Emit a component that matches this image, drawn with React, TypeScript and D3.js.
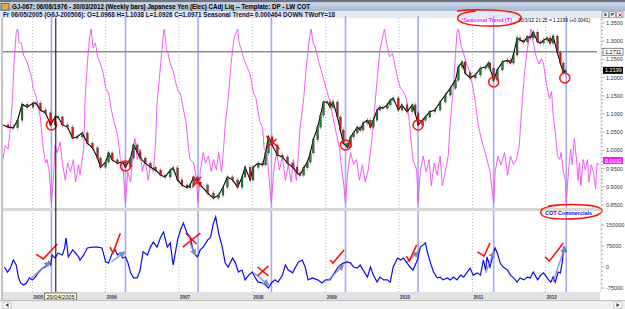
import React from 'react';
import * as d3 from 'd3';

const W = 625;
const H = 309;

const titleText = 'GJ-067:  06/08/1976 - 30/03/2012  (Weekly bars)  Japanese Yen (Elec) CAdj Liq  --  Template: DP - LW COT';
const infoText = 'Fr   06/05/2005 (G6J-200506):  O=1.0968  H=1.1038  L=1.0926  C=1.0971   Seasonal  Trend= 0.000464  DOWN   TWofY=18';

const years = [2005, 2006, 2007, 2008, 2009, 2010, 2011, 2012];
const seasonalLows = [2005.26, 2006.27, 2007.26, 2008.26, 2009.27, 2010.26, 2011.29, 2012.28];
const priceTicks = [1.35, 1.3, 1.25, 1.2, 1.15, 1.1, 1.05, 1.0, 0.95, 0.9, 0.85];
const cotTicks = [150000, 75000, 0, -75000];
const lastPriceLevel = 1.2711;
const cursorDate = 2005.32;

// weekly closes
const priceData: [number, number][] = [
  [2004.6, 1.07], [2004.67, 1.064], [2004.74, 1.062], [2004.8, 1.083], [2004.86, 1.127], [2004.93, 1.119],
  [2005.01, 1.13], [2005.05, 1.13], [2005.11, 1.111], [2005.18, 1.103], [2005.25, 1.07], [2005.31, 1.092],
  [2005.35, 1.092], [2005.41, 1.07], [2005.48, 1.064], [2005.55, 1.034], [2005.61, 1.037], [2005.68, 1.048],
  [2005.75, 1.02], [2005.82, 1.007], [2005.89, 0.979], [2005.93, 0.954], [2006.0, 0.968], [2006.04, 0.993],
  [2006.09, 0.974], [2006.16, 0.965], [2006.23, 0.968], [2006.27, 0.954], [2006.34, 0.979], [2006.38, 1.015],
  [2006.43, 0.996], [2006.47, 0.979], [2006.54, 0.965], [2006.61, 0.954], [2006.68, 0.946], [2006.75, 0.932],
  [2006.81, 0.927], [2006.88, 0.946], [2006.92, 0.952], [2006.98, 0.919], [2007.04, 0.905], [2007.11, 0.897],
  [2007.15, 0.905], [2007.2, 0.927], [2007.25, 0.913], [2007.29, 0.905], [2007.39, 0.883], [2007.47, 0.869],
  [2007.54, 0.877], [2007.6, 0.899], [2007.66, 0.927], [2007.73, 0.919], [2007.8, 0.899], [2007.86, 0.927],
  [2007.9, 0.954], [2007.97, 0.919], [2008.01, 0.954], [2008.08, 0.965], [2008.14, 0.96], [2008.18, 0.993],
  [2008.22, 1.037], [2008.27, 1.015], [2008.34, 0.987], [2008.41, 0.982], [2008.48, 0.965], [2008.55, 0.954],
  [2008.61, 0.938], [2008.65, 0.932], [2008.7, 0.952], [2008.75, 0.968], [2008.79, 0.993], [2008.83, 1.029],
  [2008.89, 1.064], [2008.93, 1.097], [2008.97, 1.133], [2009.02, 1.133], [2009.06, 1.119], [2009.1, 1.133],
  [2009.16, 1.092], [2009.2, 1.056], [2009.24, 1.02], [2009.3, 1.009], [2009.34, 1.037], [2009.38, 1.048],
  [2009.43, 1.064], [2009.47, 1.056], [2009.51, 1.075], [2009.57, 1.083], [2009.61, 1.064], [2009.65, 1.083],
  [2009.7, 1.111], [2009.74, 1.119], [2009.78, 1.116], [2009.84, 1.125], [2009.88, 1.138], [2009.92, 1.144],
  [2009.99, 1.111], [2010.04, 1.125], [2010.11, 1.106], [2010.18, 1.125], [2010.22, 1.103], [2010.26, 1.07],
  [2010.32, 1.083], [2010.36, 1.092], [2010.42, 1.106], [2010.49, 1.111], [2010.56, 1.133], [2010.63, 1.152],
  [2010.7, 1.171], [2010.77, 1.193], [2010.81, 1.229], [2010.86, 1.243], [2010.9, 1.213], [2010.97, 1.199],
  [2011.04, 1.207], [2011.11, 1.226], [2011.18, 1.229], [2011.22, 1.24], [2011.24, 1.226], [2011.29, 1.193],
  [2011.34, 1.221], [2011.41, 1.243], [2011.48, 1.248], [2011.52, 1.24], [2011.56, 1.262], [2011.61, 1.309],
  [2011.65, 1.303], [2011.7, 1.298], [2011.75, 1.312], [2011.79, 1.309], [2011.83, 1.325], [2011.89, 1.298],
  [2011.93, 1.295], [2011.97, 1.303], [2012.02, 1.309], [2012.06, 1.295], [2012.1, 1.314], [2012.16, 1.268],
  [2012.2, 1.24], [2012.24, 1.213], [2012.27, 1.2199],
];

// seasonal trend index (0 = seasonal low, 100 = seasonal high)
const seasonalData: [number, number][] = [
  [2004.6, 25], [2004.63, 33], [2004.67, 31], [2004.7, 43], [2004.73, 60], [2004.75, 80], [2004.78, 98], [2004.8, 100],
  [2004.82, 92], [2004.85, 92], [2004.88, 85], [2004.92, 82], [2004.95, 78], [2004.99, 72], [2005.01, 66], [2005.04, 63],
  [2005.07, 58], [2005.11, 49], [2005.15, 31], [2005.18, 23], [2005.2, 25], [2005.23, 18], [2005.26, 0], [2005.29, 16],
  [2005.31, 33], [2005.34, 29], [2005.38, 35], [2005.41, 23], [2005.45, 13], [2005.48, 23], [2005.52, 18], [2005.56, 25],
  [2005.59, 12], [2005.63, 22], [2005.65, 16], [2005.7, 31], [2005.72, 60], [2005.75, 80], [2005.78, 95], [2005.8, 100],
  [2005.83, 89], [2005.86, 92], [2005.89, 84], [2005.93, 80], [2005.97, 74], [2006.0, 66], [2006.04, 63], [2006.08, 53],
  [2006.1, 49], [2006.15, 41], [2006.17, 37], [2006.2, 25], [2006.24, 18], [2006.27, 0], [2006.3, 18], [2006.34, 12],
  [2006.38, 33], [2006.4, 37], [2006.43, 25], [2006.47, 31], [2006.5, 18], [2006.54, 25], [2006.58, 13], [2006.61, 22],
  [2006.65, 18], [2006.68, 35], [2006.7, 57], [2006.75, 80], [2006.79, 98], [2006.8, 100], [2006.83, 88], [2006.85, 86],
  [2006.88, 80], [2006.92, 76], [2006.95, 70], [2006.99, 64], [2007.02, 63], [2007.06, 54], [2007.1, 45], [2007.13, 31],
  [2007.15, 25], [2007.2, 23], [2007.24, 13], [2007.26, 0], [2007.29, 18], [2007.33, 29], [2007.36, 23], [2007.4, 27],
  [2007.44, 18], [2007.47, 25], [2007.51, 19], [2007.54, 29], [2007.58, 18], [2007.6, 27], [2007.63, 45], [2007.67, 60],
  [2007.71, 80], [2007.75, 95], [2007.8, 100], [2007.82, 92], [2007.85, 88], [2007.89, 82], [2007.93, 78], [2007.97, 74],
  [2008.01, 64], [2008.05, 60], [2008.1, 47], [2008.14, 43], [2008.16, 31], [2008.2, 29], [2008.23, 13], [2008.26, 0],
  [2008.29, 18], [2008.33, 29], [2008.37, 19], [2008.41, 27], [2008.45, 13], [2008.49, 22], [2008.53, 12], [2008.56, 25],
  [2008.6, 13], [2008.63, 29], [2008.65, 43], [2008.7, 60], [2008.74, 80], [2008.78, 95], [2008.8, 100], [2008.83, 92],
  [2008.86, 89], [2008.9, 82], [2008.94, 76], [2008.98, 70], [2009.02, 64], [2009.06, 58], [2009.1, 49], [2009.15, 39],
  [2009.19, 31], [2009.21, 22], [2009.24, 13], [2009.27, 0], [2009.3, 18], [2009.34, 29], [2009.38, 22], [2009.42, 25],
  [2009.46, 13], [2009.5, 22], [2009.54, 12], [2009.58, 19], [2009.62, 33], [2009.66, 51], [2009.7, 70], [2009.74, 88],
  [2009.79, 98], [2009.8, 100], [2009.83, 92], [2009.87, 84], [2009.91, 86], [2009.95, 78], [2009.99, 70], [2010.02, 66],
  [2010.06, 64], [2010.1, 60], [2010.14, 47], [2010.17, 33], [2010.19, 25], [2010.24, 19], [2010.26, 0], [2010.29, 18],
  [2010.33, 27], [2010.37, 18], [2010.41, 25], [2010.44, 10], [2010.48, 23], [2010.52, 16], [2010.56, 27], [2010.59, 10],
  [2010.63, 18], [2010.67, 27], [2010.7, 47], [2010.74, 66], [2010.77, 86], [2010.79, 98], [2010.81, 100], [2010.84, 92],
  [2010.88, 86], [2010.92, 80], [2010.96, 76], [2011.0, 68], [2011.04, 58], [2011.08, 45], [2011.12, 37], [2011.16, 31],
  [2011.2, 25], [2011.24, 18], [2011.29, 0], [2011.31, 18], [2011.35, 27], [2011.39, 22], [2011.44, 29], [2011.48, 16],
  [2011.52, 27], [2011.56, 22], [2011.6, 25], [2011.64, 33], [2011.67, 53], [2011.71, 74], [2011.75, 89], [2011.79, 98],
  [2011.8, 100], [2011.83, 92], [2011.87, 84], [2011.91, 80], [2011.94, 83], [2011.97, 80], [2011.99, 74], [2012.02, 66],
  [2012.05, 60], [2012.08, 64], [2012.1, 51], [2012.13, 41], [2012.16, 27], [2012.19, 25], [2012.21, 29], [2012.24, 18],
  [2012.27, 13], [2012.28, 0], [2012.31, 18], [2012.34, 31], [2012.36, 22], [2012.39, 37], [2012.42, 25], [2012.44, 13],
  [2012.46, 23], [2012.48, 10], [2012.51, 25], [2012.54, 19], [2012.57, 25], [2012.59, 12], [2012.62, 22], [2012.65, 18],
  [2012.68, 8], [2012.7, 23], [2012.73, 22],
];

// COT commercials net position (contracts)
const cotData: [number, number][] = [
  [2004.62, 0], [2004.66, -18000], [2004.7, -4000], [2004.74, 25000], [2004.78, 7000], [2004.81, -36000],
  [2004.84, -57000], [2004.88, -64000], [2004.92, -57000], [2004.96, -39000], [2005.0, -46000], [2005.04, -36000],
  [2005.08, -21000], [2005.14, -4000], [2005.18, 0], [2005.22, 18000], [2005.25, 7000], [2005.27, 43000],
  [2005.31, 32000], [2005.35, 50000], [2005.41, 43000], [2005.44, 68000], [2005.46, 104000], [2005.49, 36000],
  [2005.55, 61000], [2005.59, 50000], [2005.63, 36000], [2005.65, 25000], [2005.7, 43000], [2005.75, 68000],
  [2005.82, 71000], [2005.89, 71000], [2005.95, 68000], [2006.0, 18000], [2006.04, 14000], [2006.09, 50000],
  [2006.13, 61000], [2006.16, 43000], [2006.2, 50000], [2006.23, 32000], [2006.27, 36000], [2006.3, 18000],
  [2006.34, -21000], [2006.38, -39000], [2006.43, -39000], [2006.47, -11000], [2006.51, 54000], [2006.57, 43000],
  [2006.61, 71000], [2006.65, 89000], [2006.7, 71000], [2006.75, 107000], [2006.79, 125000], [2006.84, 71000],
  [2006.88, 86000], [2006.92, 7000], [2006.98, 96000], [2007.02, 132000], [2007.06, 157000], [2007.11, 121000],
  [2007.15, 107000], [2007.2, 50000], [2007.25, 36000], [2007.29, 61000], [2007.33, 71000], [2007.39, 96000],
  [2007.43, 107000], [2007.47, 157000], [2007.5, 179000], [2007.54, 121000], [2007.59, 71000], [2007.63, 14000],
  [2007.67, 0], [2007.73, 32000], [2007.77, 14000], [2007.81, -18000], [2007.86, -11000], [2007.9, -46000],
  [2007.95, -29000], [2008.0, -18000], [2008.04, -39000], [2008.08, -54000], [2008.14, -57000], [2008.18, -64000],
  [2008.22, -75000], [2008.26, -57000], [2008.31, -46000], [2008.35, -54000], [2008.41, -29000], [2008.45, 7000],
  [2008.49, -11000], [2008.55, -21000], [2008.59, 0], [2008.63, 18000], [2008.68, 25000], [2008.72, 0],
  [2008.76, -46000], [2008.82, -39000], [2008.89, -46000], [2008.95, -57000], [2009.0, -46000], [2009.06, -46000],
  [2009.1, -29000], [2009.16, -4000], [2009.2, 7000], [2009.24, 14000], [2009.3, 18000], [2009.34, 14000],
  [2009.38, 0], [2009.43, -4000], [2009.47, 7000], [2009.51, -11000], [2009.57, -36000], [2009.61, 0],
  [2009.65, -29000], [2009.7, -54000], [2009.74, -36000], [2009.79, -46000], [2009.84, -46000], [2009.88, -54000],
  [2009.92, 0], [2009.98, 32000], [2010.02, 25000], [2010.06, 32000], [2010.11, 14000], [2010.15, 0],
  [2010.19, -11000], [2010.25, 25000], [2010.29, 71000], [2010.33, 79000], [2010.36, 86000], [2010.39, 50000],
  [2010.43, 14000], [2010.47, -18000], [2010.52, -39000], [2010.56, -36000], [2010.6, -46000], [2010.66, -39000],
  [2010.7, -46000], [2010.74, -36000], [2010.79, -46000], [2010.84, -29000], [2010.88, -36000], [2010.93, -18000],
  [2010.97, -4000], [2011.01, -29000], [2011.07, -21000], [2011.11, -29000], [2011.15, 25000], [2011.18, -11000],
  [2011.2, 36000], [2011.24, 0], [2011.29, 50000], [2011.31, 68000], [2011.34, 50000], [2011.38, 14000],
  [2011.42, 0], [2011.48, -11000], [2011.52, -29000], [2011.56, -39000], [2011.61, -54000], [2011.65, -39000],
  [2011.7, -46000], [2011.75, -36000], [2011.79, -39000], [2011.83, -18000], [2011.89, -46000], [2011.93, -29000],
  [2011.97, -21000], [2012.04, -46000], [2012.07, -54000], [2012.1, -36000], [2012.13, -54000], [2012.17, -18000],
  [2012.2, -21000], [2012.23, 25000], [2012.24, 61000], [2012.25, 71000], [2012.28, 54000],
];

// hand-drawn notes
const priceCircles: [number, number][] = [
  [2005.26, 1.07], [2006.27, 0.957], [2009.27, 1.015], [2010.26, 1.07], [2011.29, 1.188], [2012.26, 1.199],
];
const priceCrosses: [number, number][][] = [
  [[2007.18, 0.927], [2007.3, 0.902]], [[2007.18, 0.899], [2007.3, 0.927]],
  [[2008.19, 1.04], [2008.37, 1.004]], [[2008.2, 1.009], [2008.33, 1.031]],
];
const cotChecks: [number, number][][] = [
  [[2005.05, 46000], [2005.15, 29000], [2005.34, 82000]],
  [[2006.06, 71000], [2006.1, 50000], [2006.2, 121000]],
  [[2009.06, 25000], [2009.1, 14000], [2009.25, 61000]],
  [[2010.1, 39000], [2010.14, 21000], [2010.24, 79000]],
  [[2011.07, 54000], [2011.16, 39000], [2011.24, 86000]],
  [[2011.99, 36000], [2012.05, 21000], [2012.24, 86000]],
];
const cotCrosses: [number, number][][] = [
  [[2007.05, 71000], [2007.29, 121000]], [[2007.09, 121000], [2007.24, 82000]],
  [[2008.07, 0], [2008.22, -32000]], [[2008.07, -32000], [2008.22, 4000]],
];
const cotArrows: [number, number][][] = [
  [[2004.99, -39000], [2005.24, 18000]],
  [[2006.08, 18000], [2006.26, 54000]],
  [[2007.15, 86000], [2007.22, 43000]],
  [[2008.02, -21000], [2008.22, -64000]],
  [[2009.04, -46000], [2009.24, 7000]],
  [[2010.11, 18000], [2010.26, 54000]],
  [[2011.18, -21000], [2011.29, 54000]],
  [[2012.1, -54000], [2012.26, 71000]],
];

const x = d3.scaleLinear().domain([2004.6, 2012.74]).range([3, 600]);
const yP = d3.scaleLinear().domain([0.85, 1.35]).range([205, 23]);
const yS = d3.scaleLinear().domain([0, 100]).range([203, 29]);
const yC = d3.scaleLinear().domain([-75000, 150000]).range([288, 225]);

const PT = 18, PB = 208, LT = 211, LB = 292, R = 600;
const font = 'Liberation Sans, Arial, sans-serif';

const priceLine = d3.line<[number, number]>().x(d => x(d[0])).y(d => yP(d[1]));
const seasLine = d3.line<[number, number]>().x(d => x(d[0])).y(d => yS(d[1]));
const cotLine = d3.line<[number, number]>().x(d => x(d[0])).y(d => yC(d[1]));

export default function App() {
  const red = '#ff1010';
  return (
    <svg width={W} height={H} style={{ position: 'absolute', left: 0, top: 0, background: '#fff' }} fontFamily={font}>
      <defs>
        <linearGradient id="tb" x1="0" y1="0" x2="0" y2="1">
          <stop offset="0" stopColor="#cdd9ea" />
          <stop offset="1" stopColor="#a3b6d1" />
        </linearGradient>
        <clipPath id="cp"><rect x={3} y={PT} width={R - 3} height={PB - PT} /></clipPath>
        <clipPath id="cl"><rect x={3} y={LT} width={R - 3} height={LB - LT} /></clipPath>
        <marker id="ah" viewBox="0 0 6 6" refX="5" refY="3" markerWidth="4" markerHeight="4" orient="auto">
          <path d="M0,0 L6,3 L0,6 z" fill="#8088c4" />
        </marker>
      </defs>
      <rect width={W} height={H} fill="#fff" />

      {/* title bar */}
      <rect x={0} y={0} width={W} height={2.5} fill="#6c7686" />
      <rect x={0} y={2.5} width={W} height={8.5} fill="url(#tb)" />
      <rect x={1} y={3.5} width={8} height={6.5} fill="#e6a93a" stroke="#3a5a9a" strokeWidth={0.8} />
      <text x={12} y={9.3} fontSize={7} fontWeight="bold" fill="#000" textLength={298} lengthAdjust="spacingAndGlyphs">{titleText}</text>
      <rect x={0} y={11} width={W} height={7} fill="#e2e9f3" />
      <text x={3} y={16.8} fontSize={6.8} fontWeight="bold" fill="#14143c" textLength={332} lengthAdjust="spacingAndGlyphs">{infoText}</text>
      {['S', 'P', ''].map((s, i) => (
        <g key={i}>
          <rect x={602 + i * 7.3} y={11.8} width={6.3} height={6} fill="#f4f4f4" stroke="#777" strokeWidth={0.6} />
          {s ? <text x={605.2 + i * 7.3} y={16.3} fontSize={4.4} fontWeight="bold" textAnchor="middle">{s}</text>
            : <path d={`M${604 + i * 7.3},${13.5} l3,3 m0,-3 l-3,3`} stroke="#d02020" strokeWidth={1} />}
        </g>
      ))}

      {/* grid verticals */}
      <line x1={2} x2={2} y1={PT} y2={300} stroke="#888" strokeWidth={1} />
      {years.map(yr => (
        <line key={yr} x1={x(yr)} x2={x(yr)} y1={PT} y2={LB} stroke="#9a9a9a" strokeWidth={0.7} strokeDasharray="1 2" />
      ))}
      {seasonalLows.map(yr => (
        <line key={yr} x1={x(yr)} x2={x(yr)} y1={PT - 2} y2={LB} stroke="#a4a8f6" strokeWidth={1.6} />
      ))}

      {/* separator between panes */}
      <rect x={3} y={PB} width={R - 3} height={LT - PB} fill="#d6d6d6" />

      {/* price pane */}
      <g clipPath="url(#cp)">
        <line x1={3} x2={597} y1={yP(lastPriceLevel)} y2={yP(lastPriceLevel)} stroke="#8c8c8c" strokeWidth={1.5} />
        <path d={seasLine(seasonalData) || ''} fill="none" stroke="#f24af2" strokeWidth={0.9} />
        {priceData.slice(1).map((d, i) => {
          const o = priceData[i][1];
          const c = d[1];
          const hi = yP(Math.max(o, c)) - 2.5;
          const lo = yP(Math.min(o, c)) + 2.5;
          return (
            <line key={'w' + i} x1={x(d[0])} x2={x(d[0])} y1={hi} y2={lo} stroke="#8a8a8a" strokeWidth={0.6} />
          );
        })}
        <path d={priceLine(priceData) || ''} fill="none" stroke="#000" strokeWidth={1.1} />
        {priceData.slice(1).map((d, i) => {
          const o = priceData[i][1];
          const c = d[1];
          const top = yP(Math.max(o, c));
          const h = Math.max(1, Math.abs(yP(o) - yP(c)));
          return (
            <rect key={i} x={x(d[0]) - 0.9} y={top} width={1.8} height={h}
              fill={c >= o ? '#1f7f2a' : '#c81e1e'} stroke="#111" strokeWidth={0.3} />
          );
        })}
        {priceCircles.map((d, i) => (
          <circle key={i} cx={x(d[0])} cy={yP(d[1])} r={5} fill="none" stroke={red} strokeWidth={1.5} />
        ))}
        {priceCrosses.map((s, i) => (
          <line key={i} x1={x(s[0][0])} y1={yP(s[0][1])} x2={x(s[1][0])} y2={yP(s[1][1])} stroke={red} strokeWidth={1.6} />
        ))}
      </g>

      {/* lower pane */}
      <g clipPath="url(#cl)">
        <path d={cotLine(cotData) || ''} fill="none" stroke="#0a0aee" strokeWidth={1.2} />
        {cotArrows.map((s, i) => (
          <line key={i} x1={x(s[0][0])} y1={yC(s[0][1])} x2={x(s[1][0])} y2={yC(s[1][1])}
            stroke="#8088c4" strokeOpacity={0.8} strokeWidth={1.6} markerEnd="url(#ah)" />
        ))}
        {cotChecks.map((c, i) => (
          <polyline key={i} points={c.map(p => `${x(p[0])},${yC(p[1])}`).join(' ')} fill="none" stroke={red} strokeWidth={1.6} />
        ))}
        {cotCrosses.map((s, i) => (
          <line key={i} x1={x(s[0][0])} y1={yC(s[0][1])} x2={x(s[1][0])} y2={yC(s[1][1])} stroke={red} strokeWidth={1.6} />
        ))}
      </g>

      {/* cursor */}
      <line x1={x(cursorDate)} x2={x(cursorDate)} y1={PT} y2={LB} stroke="#000" strokeWidth={1} />

      {/* notes */}
      <text x={462} y={21.5} fontSize={6} fontWeight="bold" fill="#f018f0" textLength={50} lengthAdjust="spacingAndGlyphs">'Seasonal Trend (T)</text>
      <path d="M457,11 C470,9 505,9 518,14 C526,18 520,26 490,26 C466,26 456,22 458,17 C459,14 465,12 476,11" fill="none" stroke={red} strokeWidth={1.5} />
      <text x={518} y={21.5} fontSize={4.8} fill="#000" textLength={72} lengthAdjust="spacingAndGlyphs">30/3/12 21:25 = 1.2199 (+0.0041)</text>
      <text x={545} y={215} fontSize={6} fontWeight="bold" fill="#1010d0" textLength={47} lengthAdjust="spacingAndGlyphs">COT Commercials</text>
      <path d="M548,206 C575,203 600,205 602,210 C603,216 585,219 565,219 C546,219 539,216 541,211 C542,208 548,206 560,205" fill="none" stroke={red} strokeWidth={1.5} />

      {/* right axes */}
      <line x1={R + 1} x2={R + 1} y1={PT} y2={LB} stroke="#c8c8c8" strokeWidth={0.6} />
      {d3.range(0.85, 1.365, 0.01).map((v, i) => (
        <line key={i} x1={R + 1} x2={R + (i % 5 === 0 ? 4.5 : 3)} y1={yP(v)} y2={yP(v)} stroke="#777" strokeWidth={0.6} />
      ))}
      {priceTicks.map(v => (
        <text key={v} x={606} y={yP(v) + 2} fontSize={5.5} fill="#333">{v.toFixed(4)}</text>
      ))}
      {d3.range(-75000, 150001, 15000).map((v, i) => (
        <line key={i} x1={R + 1} x2={R + (v % 75000 === 0 ? 4.5 : 3)} y1={yC(v)} y2={yC(v)} stroke="#777" strokeWidth={0.6} />
      ))}
      {cotTicks.map(v => (
        <text key={v} x={606} y={yC(v) + 2} fontSize={5.5} fill="#333">{String(v)}</text>
      ))}
      <rect x={603} y={yP(lastPriceLevel) - 3.5} width={20} height={7} fill="#fff" stroke="#333" strokeWidth={0.6} />
      <text x={605} y={yP(lastPriceLevel) + 2} fontSize={5.5} fill="#000">{lastPriceLevel.toFixed(4)}</text>
      <rect x={603} y={yP(1.2199) - 3.5} width={20} height={7} fill="#000" />
      <text x={605} y={yP(1.2199) + 2} fontSize={5.5} fill="#fff">1.2199</text>
      <rect x={603} y={157} width={20} height={7} fill="#f020f0" />
      <text x={605} y={162.5} fontSize={5.5} fill="#fff">0.0032</text>

      {/* date band */}
      <rect x={3} y={LB} width={R - 3} height={8} fill="#e2e2e2" />
      {years.map(yr => (
        <text key={yr} x={x(yr) + 1} y={298.5} fontSize={5.5} fontWeight="bold" fill="#30305a" textLength={10} lengthAdjust="spacingAndGlyphs">{yr}</text>
      ))}
      <rect x={44.5} y={293} width={32} height={7} fill="#ffffe1" stroke="#222" strokeWidth={0.6} />
      <text x={46.5} y={298.5} fontSize={5.5} fill="#000" textLength={28} lengthAdjust="spacingAndGlyphs">29/04/2005</text>

      {/* scrollbar */}
      <rect x={0} y={300} width={W} height={9} fill="#f0f0f0" />
      <line x1={0} x2={W} y1={300.5} y2={300.5} stroke="#a0a0a0" strokeWidth={0.6} />
      <rect x={3} y={302} width={8} height={6} fill="#fff" stroke="#999" strokeWidth={0.5} />
      <path d="M8.5,303 l-3,2 l3,2 z" fill="#333" />
      <rect x={614} y={302} width={8} height={6} fill="#fff" stroke="#999" strokeWidth={0.5} />
      <path d="M616.5,303 l3,2 l-3,2 z" fill="#333" />
    </svg>
  );
}
